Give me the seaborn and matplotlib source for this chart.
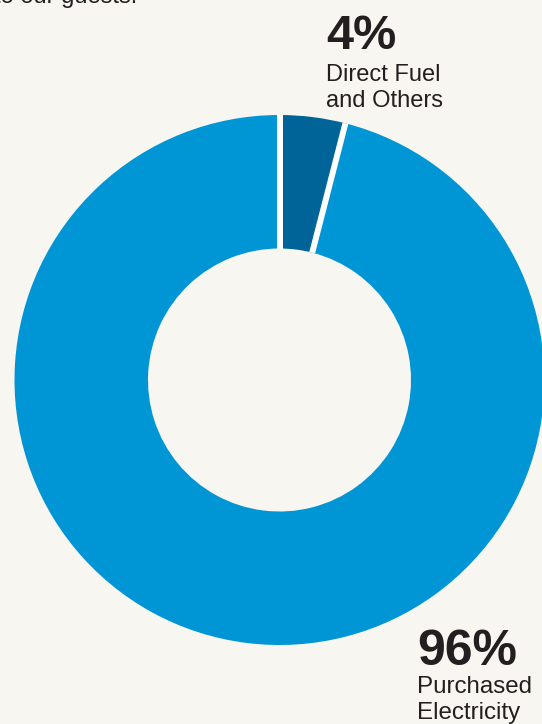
import matplotlib
matplotlib.use("Agg")
import matplotlib.pyplot as plt
import numpy as np
import seaborn as sns

# Energy consumption split
categories = ["Direct Fuel\nand Others", "Purchased\nElectricity"]
shares = [4, 96]
share_labels = ["4%", "96%"]
colors = ["#006499", "#0096d6"]

sns.set_theme(style="white")
plt.rcParams["font.family"] = ["Liberation Sans", "DejaVu Sans"]

W, H = 542, 724
bg = "#f8f6f0"
ink = "#231f20"
fig = plt.figure(figsize=(W / 100, H / 100), dpi=100, facecolor=bg)
ax = fig.add_axes([0, 0, 1, 1])
ax.set_facecolor(bg)


def top(y):
    """Convert a distance from the top edge into axis y."""
    return H - y


# Donut ring, first slice clockwise from 12 o'clock
cx, cy = 279.5, top(380)
r_out, r_in = 265, 131.5
ax.pie(
    shares,
    colors=colors,
    startangle=90,
    counterclock=False,
    center=(cx, cy),
    radius=r_out,
    wedgeprops=dict(width=r_out - r_in, linewidth=0),
    frame=True,
)

# white separators at every slice boundary
bounds = 90 - 360 * np.concatenate([[0], np.cumsum(shares)[:-1]]) / np.sum(shares)
for a in np.deg2rad(bounds):
    ax.plot([cx + r_in * np.cos(a), cx + r_out * np.cos(a)],
            [cy + r_in * np.sin(a), cy + r_out * np.sin(a)],
            color="white", linewidth=4.3, solid_capstyle="butt", zorder=5)

ax.set_xlim(0, W)
ax.set_ylim(0, H)
ax.set_aspect("equal")
ax.axis("off")

# Trailing line of the introductory sentence
ax.text(137, top(3), "to our guests.", ha="right", va="baseline",
        fontsize=17, color=ink)

# Slice annotations
ax.text(326, top(49), share_labels[0], ha="left", va="baseline",
        fontsize=35, fontweight="bold", color=ink)
ax.text(326, top(81), categories[0].split("\n")[0], ha="left", va="baseline",
        fontsize=17, color=ink)
ax.text(326, top(107), categories[0].split("\n")[1], ha="left", va="baseline",
        fontsize=17, color=ink)

ax.text(417, top(665), share_labels[1], ha="left", va="baseline",
        fontsize=36, fontweight="bold", color=ink)
ax.text(417, top(693), categories[1].split("\n")[0], ha="left", va="baseline",
        fontsize=17.4, color=ink)
ax.text(417, top(719), categories[1].split("\n")[1], ha="left", va="baseline",
        fontsize=17.4, color=ink)

fig.savefig("out.png", dpi=100, facecolor=bg)
